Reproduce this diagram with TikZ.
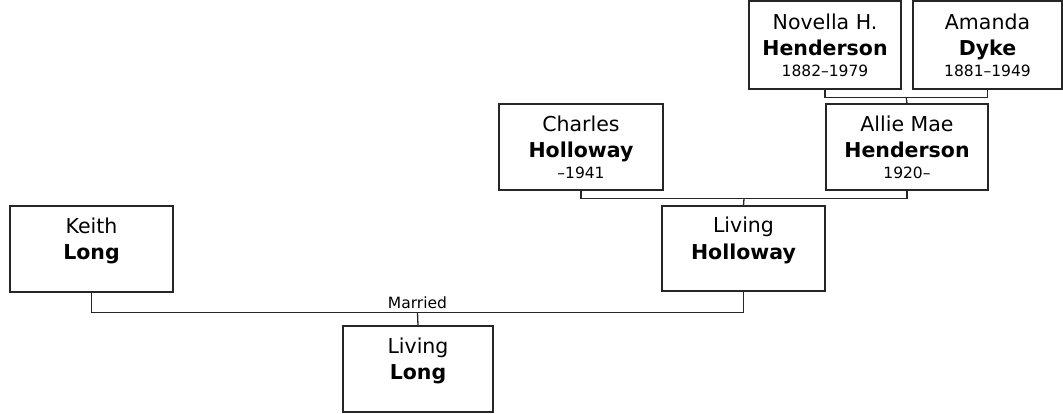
\documentclass[tikz,border=0pt]{standalone}
\usepackage{fontspec}
\setmainfont{DejaVu Sans}
\usetikzlibrary{calc}
\newcommand\datefont{\fontsize{15.5}{20}\selectfont}
\begin{document}
\begin{tikzpicture}[x=1pt,y=-1pt,
  person/.style={draw=black!85, line width=1.2pt, fill=white, inner sep=0pt,
    align=center, font=\fontsize{20.5}{26.5}\selectfont},
  link/.style={draw=black!85, line width=1.3pt},
  note/.style={font=\datefont, inner sep=0pt}]
\useasboundingbox (0,0) rectangle (1063,413);
% persons
\node[person, minimum width=152pt, minimum height=88pt] (novella) at (825,45)
  {Novella H.\\\textbf{Henderson}\\[-6pt]{\datefont 1882–1979}};
\node[person, minimum width=149pt, minimum height=88pt] (amanda) at (987.5,45)
  {Amanda\\\textbf{Dyke}\\[-6pt]{\datefont 1881–1949}};
\node[person, minimum width=162pt, minimum height=86pt] (allie) at (907,147)
  {Allie Mae\\\textbf{Henderson}\\[-6pt]{\datefont 1920–}};
\node[person, minimum width=164pt, minimum height=86pt] (charles) at (581,147)
  {Charles\\\textbf{Holloway}\\[-6pt]{\datefont –1941}};
\node[person, minimum width=163pt, minimum height=85pt] (livhol) at (743.5,248.5)
  {Living\\\textbf{Holloway}\\[-6pt]{\datefont\vphantom{1}}};
\node[person, minimum width=163pt, minimum height=86pt] (keith) at (91.5,249)
  {Keith\\\textbf{Long}\\[-6pt]{\datefont\vphantom{1}}};
\node[person, minimum width=150pt, minimum height=86pt] (livlong) at (418,369)
  {Living\\\textbf{Long}\\[-6pt]{\datefont\vphantom{1}}};
% family junctions
\coordinate (j1) at ($(novella.south)!0.5!(amanda.south)+(0,8)$);
\coordinate (j2) at ($(charles.south)!0.5!(allie.south)+(0,8)$);
\coordinate (j3) at ($(keith.south)!0.5!(livhol.south)+(0,20.5)$);
\draw[link] (novella.south) |- (j1) -| (amanda.south);
\draw[link] (j1) -- (allie.north);
\draw[link] (charles.south) |- (j2) -| (allie.south);
\draw[link] (j2) -- (livhol.north);
\draw[link] (keith.south) |- (j3) -| (livhol.south);
\draw[link] (j3) -- (livlong.north);
\node[note, anchor=base] (married) at ($(j3)+(0,-4)$) {Married};
\end{tikzpicture}
\end{document}
